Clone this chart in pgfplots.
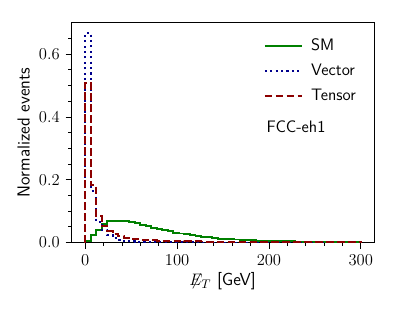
\documentclass[border=0pt]{standalone}
\usepackage{pgfplots}
\pgfplotsset{compat=1.18}
\definecolor{mgreen}{rgb}{0,0.5,0}
\definecolor{mblue}{rgb}{0,0,0.55}
\definecolor{mred}{rgb}{0.55,0,0}
\pgfplotstableread{
x sm vec ten
0 0 0 0
0 0.006 0.667 0.508
6 0.024 0.165 0.182
12 0.040 0.067 0.086
18 0.058 0.040 0.052
24 0.068 0.024 0.037
30 0.069 0.014 0.027
36 0.069 0.009 0.021
42 0.068 0.006 0.016
48 0.065 0.004 0.013
54 0.061 0.003 0.011
60 0.057 0.0025 0.009
66 0.053 0.002 0.008
72 0.048 0.0016 0.007
78 0.044 0.0013 0.0065
84 0.040 0.0011 0.006
90 0.036 0.0009 0.0055
96 0.032 0.0008 0.005
102 0.029 0.0007 0.0047
108 0.026 0.0006 0.0044
114 0.023 0.0005 0.0041
120 0.021 0.0005 0.0038
126 0.019 0.0004 0.0036
132 0.017 0.0004 0.0034
138 0.015 0.0003 0.0032
144 0.013 0.0003 0.0030
150 0.012 0.0003 0.0028
156 0.011 0.0002 0.0027
162 0.010 0.0002 0.0026
168 0.009 0.0002 0.0025
174 0.008 0.0002 0.0024
180 0.007 0.0002 0.0023
186 0.0065 0.0001 0.0022
192 0.006 0.0001 0.0021
198 0.0055 0.0001 0.0020
204 0.005 0.0001 0.0019
210 0.0045 0.0001 0.0018
216 0.004 0.0001 0.0017
222 0.0037 0.0001 0.0016
228 0.0034 0.0001 0.0015
234 0.0031 0.0001 0.0014
240 0.0028 0.0001 0.0013
246 0.0025 0.0001 0.0012
252 0.0023 0.0001 0.0011
258 0.0021 0.0001 0.0010
264 0.0019 0.0001 0.0009
270 0.0017 0.0001 0.0008
276 0.0015 0.0001 0.0008
282 0.0014 0.0001 0.0007
288 0.0013 0.0001 0.0007
294 0.0012 0.0001 0.0006
300 0.0012 0.0001 0.0006
300 0 0 0
}\hist
\begin{document}
\fontsize{12}{14.4}\selectfont
\begin{tikzpicture}
\path[use as bounding box] (0,0) rectangle (287.3bp,224.6bp);
\begin{axis}[
  at={(51.5bp,49.9bp)}, anchor=south west,
  width=218.2bp, height=158.4bp, scale only axis,
  xmin=-15, xmax=315, ymin=0, ymax=0.7,
  xtick={0,100,200,300},
  minor xtick={20,40,60,80,120,140,160,180,220,240,260,280},
  ytick={0,0.2,0.4,0.6},
  minor ytick={0.05,0.1,0.15,0.25,0.3,0.35,0.45,0.5,0.55,0.65},
  yticklabel style={/pgf/number format/.cd,fixed,fixed zerofill,precision=1},
  tick align=outside, tick pos=left,
  major tick length=4.3bp, minor tick length=2.4bp,
  every tick/.style={black, line width=0.6pt},
  axis line style={line width=0.8pt},
  tick label style={font=\fontsize{12.3}{14}\selectfont},
  xlabel={\sffamily $\not\!\!E_T$ [GeV]},
  ylabel={\sffamily Normalized events},
  label style={font=\fontsize{12.6}{14}\selectfont},
  xlabel style={yshift=3bp},
  ylabel style={yshift=-1.5bp},
  legend style={draw=none, fill=none, at={(0.62,0.955)}, anchor=north west,
    font=\sffamily\fontsize{12}{14}\selectfont, row sep=4.0bp,
    legend cell align=left, nodes={inner xsep=6bp}},
  legend image code/.code={\draw[#1] (0bp,0bp) -- (26.7bp,0bp);},
]
\addplot[const plot mark left, color=mgreen, line width=1.4bp, solid] table[x=x,y=sm] {\hist};
\addlegendentry{SM}
\addplot[const plot mark left, color=mblue, line width=1.4bp, dash pattern=on 1.5bp off 2.4bp] table[x=x,y=vec] {\hist};
\addlegendentry{Vector}
\addplot[const plot mark left, color=mred, line width=1.4bp, dash pattern=on 5.5bp off 2.4bp] table[x=x,y=ten] {\hist};
\addlegendentry{Tensor}
\node[anchor=west, font=\sffamily\fontsize{12}{14}\selectfont] at (rel axis cs:0.625,0.526) {FCC-eh1};
\end{axis}
\end{tikzpicture}
\end{document}
